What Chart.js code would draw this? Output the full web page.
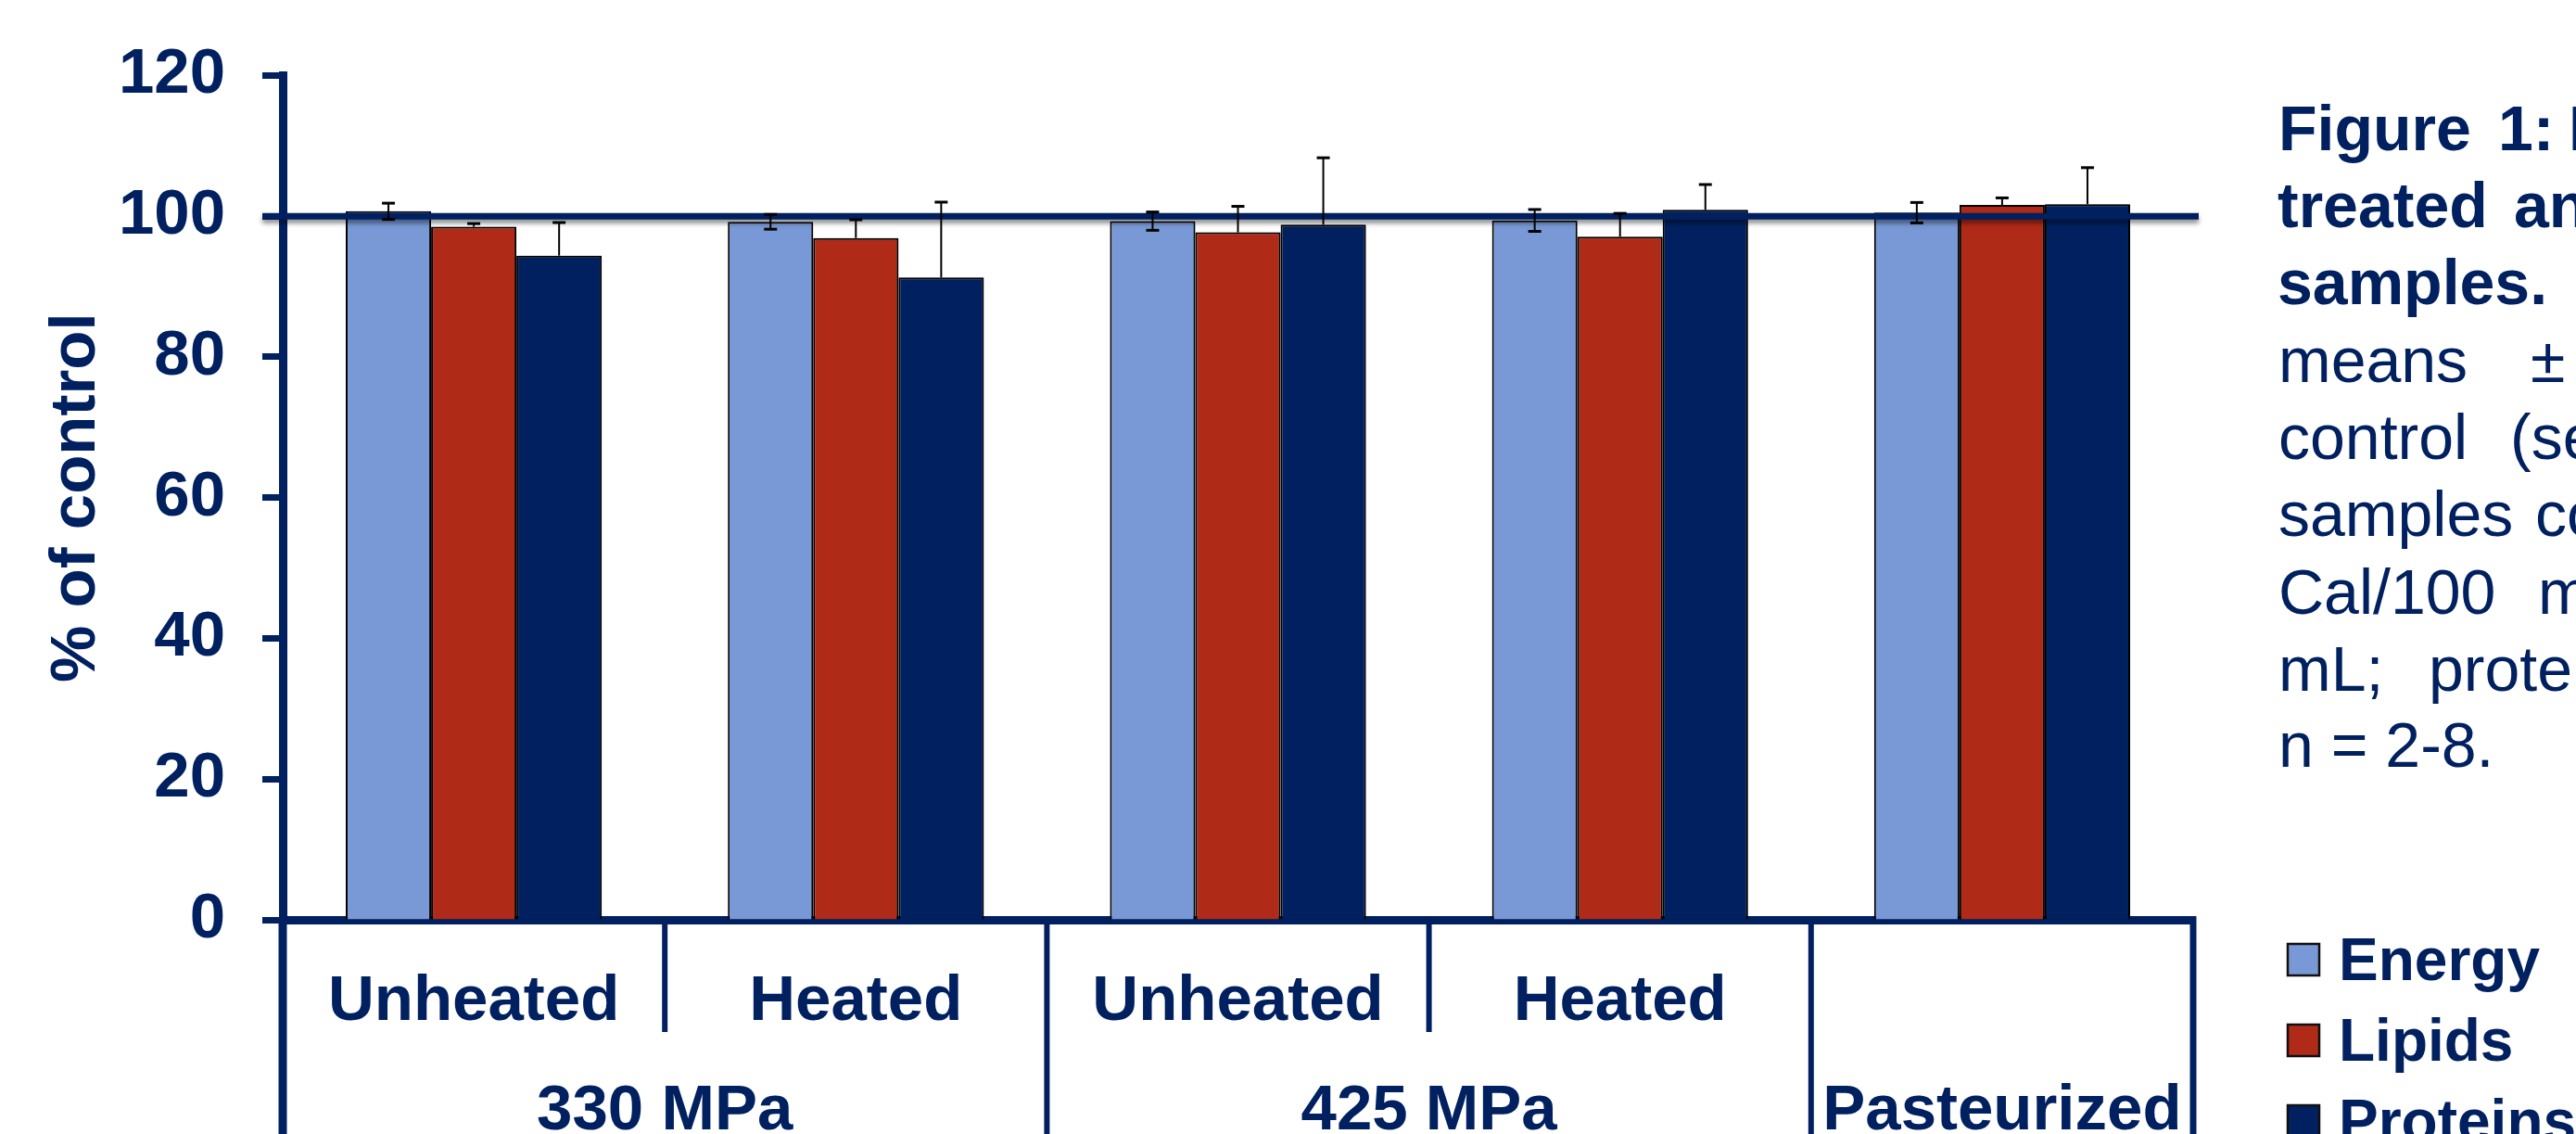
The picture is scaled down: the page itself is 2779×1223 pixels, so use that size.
<!DOCTYPE html>
<html>
<head>
<meta charset="utf-8">
<script src="https://cdn.jsdelivr.net/npm/chart.js@4.4.1/dist/chart.umd.min.js"></script>
<style>
  html, body { margin: 0; padding: 0; background: #fff; }
  canvas { display: block; }
</style>
</head>
<body>
<canvas id="grafico" width="2779" height="1223"></canvas>
<script>
const categories = ["Unheated", "Heated", "Unheated", "Heated", ""]
const groups     = ["330 MPa", "330 MPa", "425 MPa", "425 MPa", "Pasteurized"]

const energy   = [100.7, 99.2, 99.3, 99.4, 100.5]
const lipids   = [98.5, 96.9, 97.7, 97.1, 101.6]
const proteins = [94.4, 91.3, 98.8, 100.9, 101.7]

// SD as % of control; energy drawn both ways, the others upward only
const energyErr   = [1.15, 1.05, 1.3, 1.55, 1.45]
const lipidsErr   = [0.45, 2.6, 3.7, 3.3, 1.0]
const proteinsErr = [4.7, 10.7, 9.5, 3.6, 5.2]

const controlLevel = 100

const NAVY = "#002060"
const FONT = "'Liberation Sans', Arial, sans-serif"

const caption = [
  { bold: true,  words: [["Figure", 2458], ["1:", 2695], ["Macronutrient", 2771]], base: 162 },
  { bold: true,  words: [["treated", 2457], ["and", 2712]], base: 245 },
  { bold: true,  words: [["samples.", 2457]], base: 328 },
  { bold: false, words: [["means", 2458], ["\u00b1", 2730]], base: 412 },
  { bold: false, words: [["control", 2458], ["(see", 2708]], base: 495 },
  { bold: false, words: [["samples", 2458], ["contained", 2735]], base: 578 },
  { bold: false, words: [["Cal/100", 2458], ["mL;", 2738]], base: 662 },
  { bold: false, words: [["mL;", 2458], ["proteins", 2620]], base: 745 },
  { bold: false, words: [["n = 2-8.", 2458]], base: 827 }
]

function errorBars(ctx, chart, dsIndex, errs, both) {
    const y = chart.scales.y
    const meta = chart.getDatasetMeta(dsIndex)
    const values = chart.data.datasets[dsIndex].data
    ctx.strokeStyle = "#000"
    meta.data.forEach((bar, i) => {
        const top = y.getPixelForValue(values[i] + errs[i])
        const bot = both ? y.getPixelForValue(values[i] - errs[i]) : bar.y
        ctx.lineWidth = 2
        ctx.beginPath(); ctx.moveTo(bar.x, top); ctx.lineTo(bar.x, bot); ctx.stroke()
        ctx.lineWidth = 3
        ctx.beginPath(); ctx.moveTo(bar.x - 7, top); ctx.lineTo(bar.x + 7, top); ctx.stroke()
        if (both) {
            ctx.beginPath(); ctx.moveTo(bar.x - 7, bot); ctx.lineTo(bar.x + 7, bot); ctx.stroke()
        }
    })
}

const extras = {
    id: "extras",
    beforeDatasetsDraw(chart) {
        const ctx = chart.ctx
        ctx.save()
        ctx.shadowColor = "rgba(0,0,0,0.3)"
        ctx.shadowBlur = 4
        ctx.shadowOffsetX = 3
    },
    afterDatasetsDraw(chart) {
        const ctx = chart.ctx
        ctx.restore()
        const area = chart.chartArea
        const y100 = chart.scales.y.getPixelForValue(controlLevel)

        ctx.save()
        ctx.shadowColor = "rgba(0,0,0,0.45)"
        ctx.shadowBlur = 5
        ctx.shadowOffsetY = 4
        ctx.strokeStyle = NAVY
        ctx.lineWidth = 7
        ctx.beginPath(); ctx.moveTo(area.left - 22, y100); ctx.lineTo(area.right + 6, y100); ctx.stroke()
        ctx.restore()

        ctx.save()
        errorBars(ctx, chart, 0, energyErr, true)
        errorBars(ctx, chart, 1, lipidsErr, false)
        errorBars(ctx, chart, 2, proteinsErr, false)
        ctx.restore()
    },
    afterDraw(chart) {
        const ctx = chart.ctx
        const area = chart.chartArea
        const x = chart.scales.x
        const bottom = chart.height
        const mid = area.bottom + 121

        ctx.save()
        ctx.strokeStyle = NAVY
        ctx.fillStyle = NAVY

        // table under the axis
        ctx.lineWidth = 9
        ctx.beginPath(); ctx.moveTo(area.left, area.bottom); ctx.lineTo(area.left, bottom); ctx.stroke()
        ctx.lineWidth = 6
        for (let i = 0; i < categories.length - 1; i++) {
            const bx = (x.getPixelForValue(i) + x.getPixelForValue(i + 1)) / 2
            ctx.beginPath(); ctx.moveTo(bx, area.bottom); ctx.lineTo(bx, groups[i] === groups[i + 1] ? mid : bottom); ctx.stroke()
        }
        ctx.lineWidth = 7
        ctx.beginPath(); ctx.moveTo(area.right, area.bottom - 4); ctx.lineTo(area.right, bottom); ctx.stroke()

        ctx.font = "bold 69px " + FONT
        ctx.textAlign = "center"
        ctx.textBaseline = "alphabetic"
        const seen = []
        groups.forEach((g) => {
            if (seen.includes(g)) return
            seen.push(g)
            const first = groups.indexOf(g), last = groups.lastIndexOf(g)
            const cx = (x.getPixelForValue(first) + x.getPixelForValue(last)) / 2
            ctx.fillText(g, cx, 1218)
        })

        // legend
        ctx.textAlign = "left"
        ctx.font = "bold 64px " + FONT
        chart.data.datasets.forEach((ds, i) => {
            const top = 1018 + i * 87
            ctx.fillStyle = ds.backgroundColor
            ctx.fillRect(2468, top, 34, 34)
            ctx.lineWidth = 2.5
            ctx.strokeStyle = "#111"
            ctx.strokeRect(2468, top, 34, 34)
            ctx.fillStyle = NAVY
            ctx.fillText(ds.label, 2523, 1057 + i * 87)
        })

        // caption
        caption.forEach((line) => {
            ctx.font = (line.bold ? "bold " : "") + "68px " + FONT
            line.words.forEach(([w, wx]) => ctx.fillText(w, wx, line.base))
        })
        ctx.restore()
    }
}

const tickFont = { family: FONT, size: 69, weight: "bold" }

new Chart(document.getElementById("grafico"), {
    type: "bar",
    data: {
        labels: categories,
        datasets: [
            { label: "Energy",   data: energy,   backgroundColor: "#7899D6" },
            { label: "Lipids",   data: lipids,   backgroundColor: "#B02A18" },
            { label: "Proteins", data: proteins, backgroundColor: "#00205F" }
        ].map((d) => Object.assign(d, { borderColor: "#000", borderWidth: 2, categoryPercentage: 0.67, barPercentage: 1.0 }))
    },
    options: {
        responsive: false,
        devicePixelRatio: 1,
        animation: false,
        layout: { padding: { top: 75, right: 413, bottom: 0, left: 0 } },
        plugins: { legend: { display: false }, tooltip: { enabled: false } },
        scales: {
            x: {
                grid: { display: false },
                border: { display: true, color: NAVY, width: 9 },
                ticks: { color: NAVY, font: tickFont, padding: 40, maxRotation: 0, autoSkip: false },
                afterFit(scale) { scale.height = 231 }
            },
            y: {
                min: 0,
                max: 120,
                ticks: { stepSize: 20, color: NAVY, font: tickFont, padding: 40 },
                grid: { drawOnChartArea: false, tickLength: 22, tickWidth: 7, tickColor: NAVY },
                border: { color: NAVY, width: 9 },
                title: { display: true, text: "% of control", color: NAVY, font: tickFont, padding: { top: 42, bottom: 0 } },
                afterFit(scale) { scale.width = 305 }
            }
        }
    },
    plugins: [extras]
})
</script>
</body>
</html>
